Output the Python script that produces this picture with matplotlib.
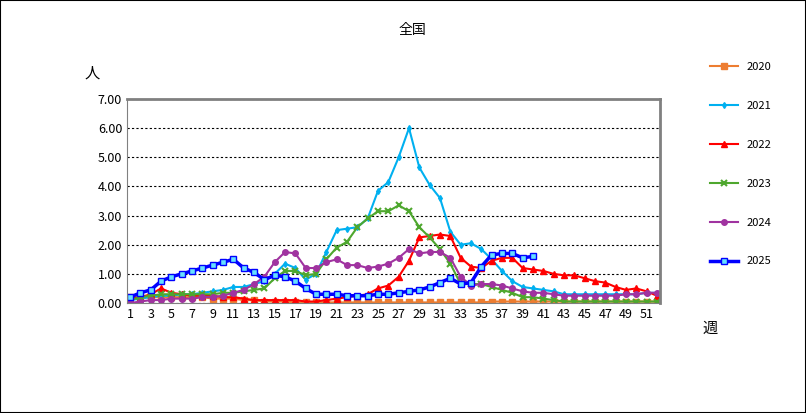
import matplotlib.pyplot as plt
import numpy as np

plt.rcParams["font.family"] = ["Noto Sans CJK JP", "DejaVu Sans"]

weeks = list(range(1, 53))
y2020 = [0.2, 0.2, 0.2, 0.2, 0.2, 0.2, 0.2, 0.2, 0.15, 0.15, 0.15, 0.1, 0.1, 0.05, 0.05, 0.05,
         0.02, 0.02, 0.02, 0.02, 0.02, 0.02, 0.02, 0.02, 0.02, 0.02, 0.02, 0.02, 0.02, 0.02,
         0.02, 0.02, 0.02, 0.02, 0.02, 0.05, 0.05, 0.05, 0.05, 0.05, 0.05, 0.05, 0.05, 0.05,
         0.05, 0.05, 0.05, 0.05, 0.05, 0.05, 0.05, 0.05]
y2021 = [0.1, 0.15, 0.2, 0.25, 0.25, 0.3, 0.3, 0.35, 0.4, 0.45, 0.55, 0.55, 0.65, 0.75, 1.0,
         1.35, 1.2, 0.8, 1.0, 1.75, 2.5, 2.55, 2.6, 2.9, 3.85, 4.15, 5.0, 6.0, 4.65, 4.05, 3.6,
         2.45, 2.0, 2.05, 1.85, 1.5, 1.1, 0.75, 0.55, 0.5, 0.45, 0.4, 0.3, 0.3, 0.3, 0.3, 0.3,
         0.3, 0.3, 0.3, 0.35, 0.35]
y2022 = [0.15, 0.2, 0.3, 0.5, 0.35, 0.3, 0.25, 0.25, 0.25, 0.2, 0.2, 0.15, 0.1, 0.1, 0.1, 0.1,
         0.1, 0.05, 0.05, 0.1, 0.15, 0.2, 0.25, 0.3, 0.5, 0.6, 0.9, 1.45, 2.25, 2.3, 2.35, 2.3,
         1.55, 1.25, 1.2, 1.45, 1.55, 1.55, 1.2, 1.15, 1.1, 1.0, 0.95, 0.95, 0.85, 0.75, 0.7,
         0.55, 0.45, 0.5, 0.4, 0.25]
y2023 = [0.1, 0.2, 0.25, 0.3, 0.3, 0.3, 0.3, 0.3, 0.3, 0.35, 0.35, 0.4, 0.45, 0.5, 0.85, 1.1,
         1.1, 0.95, 1.0, 1.5, 1.9, 2.1, 2.6, 2.9, 3.15, 3.15, 3.35, 3.15, 2.6, 2.25, 1.85, 1.35,
         0.65, 0.65, 0.65, 0.55, 0.45, 0.35, 0.2, 0.2, 0.15, 0.1, 0.05, 0.05, 0.05, 0.05, 0.05,
         0.05, 0.05, 0.05, 0.05, 0.05]
y2024 = [0.0, 0.05, 0.1, 0.1, 0.15, 0.15, 0.15, 0.2, 0.2, 0.25, 0.35, 0.45, 0.65, 0.9, 1.4,
         1.75, 1.7, 1.2, 1.2, 1.4, 1.5, 1.3, 1.3, 1.2, 1.25, 1.35, 1.55, 1.85, 1.7, 1.75, 1.75,
         1.55, 0.9, 0.6, 0.65, 0.65, 0.6, 0.5, 0.4, 0.35, 0.35, 0.3, 0.25, 0.25, 0.25, 0.25,
         0.25, 0.25, 0.3, 0.3, 0.35, 0.35]
y2025 = [0.2, 0.35, 0.45, 0.75, 0.9, 1.0, 1.1, 1.2, 1.3, 1.4, 1.5, 1.2, 1.05, 0.8, 0.95, 0.9,
         0.75, 0.5, 0.3, 0.3, 0.3, 0.25, 0.25, 0.25, 0.3, 0.3, 0.35, 0.4, 0.45, 0.55, 0.7, 0.85,
         0.65, 0.7, 1.25, 1.65, 1.7, 1.7, 1.55, 1.6]

fig = plt.figure(figsize=(8.06, 4.13), dpi=100)
fig.patches.append(plt.Rectangle((0, 0), 1, 1, transform=fig.transFigure,
                                 fill=False, edgecolor="black", linewidth=1.5))
ax = fig.add_axes([127 / 806, 1 - 303 / 413, 533 / 806, 204 / 413])

ax.plot(weeks, y2020, color="#ED7D31", marker="s", ms=4, lw=1.5, label="2020")
ax.plot(weeks, y2021, color="#00B0F0", marker="d", ms=3, lw=1.5, label="2021")
ax.plot(weeks, y2022, color="#FF0000", marker="^", ms=4, lw=1.5, label="2022")
ax.plot(weeks, y2023, color="#4EA72E", marker="x", ms=5, mew=1.5, lw=1.5, label="2023")
ax.plot(weeks, y2024, color="#A033A0", marker="o", ms=4, lw=1.5, label="2024")
ax.plot(weeks[:len(y2025)], y2025, color="#0000FF", marker="s", ms=5, mfc="#66E0FF",
        mec="#0000FF", lw=2.5, label="2025")

ax.set_xlim(0.7, 52.3)
ax.set_ylim(0, 7)
ax.set_yticks(np.arange(0, 7.01, 1))
ax.set_yticklabels([f"{v:.2f}" for v in np.arange(0, 7.01, 1)])
ax.set_xticks(range(1, 52, 2))
ax.tick_params(length=0, labelsize=9)
ax.grid(axis="y", color="black", linestyle=(0, (2, 2)), linewidth=0.8)
for s in ["top", "right"]:
    ax.spines[s].set_color("gray")
    ax.spines[s].set_linewidth(2)
ax.spines["left"].set_color("gray")
ax.spines["bottom"].set_color("gray")

fig.text(412 / 806, 1 - 30 / 413, "全国", ha="center", va="center", fontsize=10)
fig.text(92 / 806, 1 - 73 / 413, "人", ha="center", va="center", fontsize=11)
fig.text(710 / 806, 1 - 328 / 413, "週", ha="center", va="center", fontsize=11)

fig.legend(loc="upper left", bbox_to_anchor=(700 / 806, 1 - 52 / 413), frameon=False,
           fontsize=8, labelspacing=2.6, handlelength=2.5)

fig.savefig("out.png", dpi=100)
